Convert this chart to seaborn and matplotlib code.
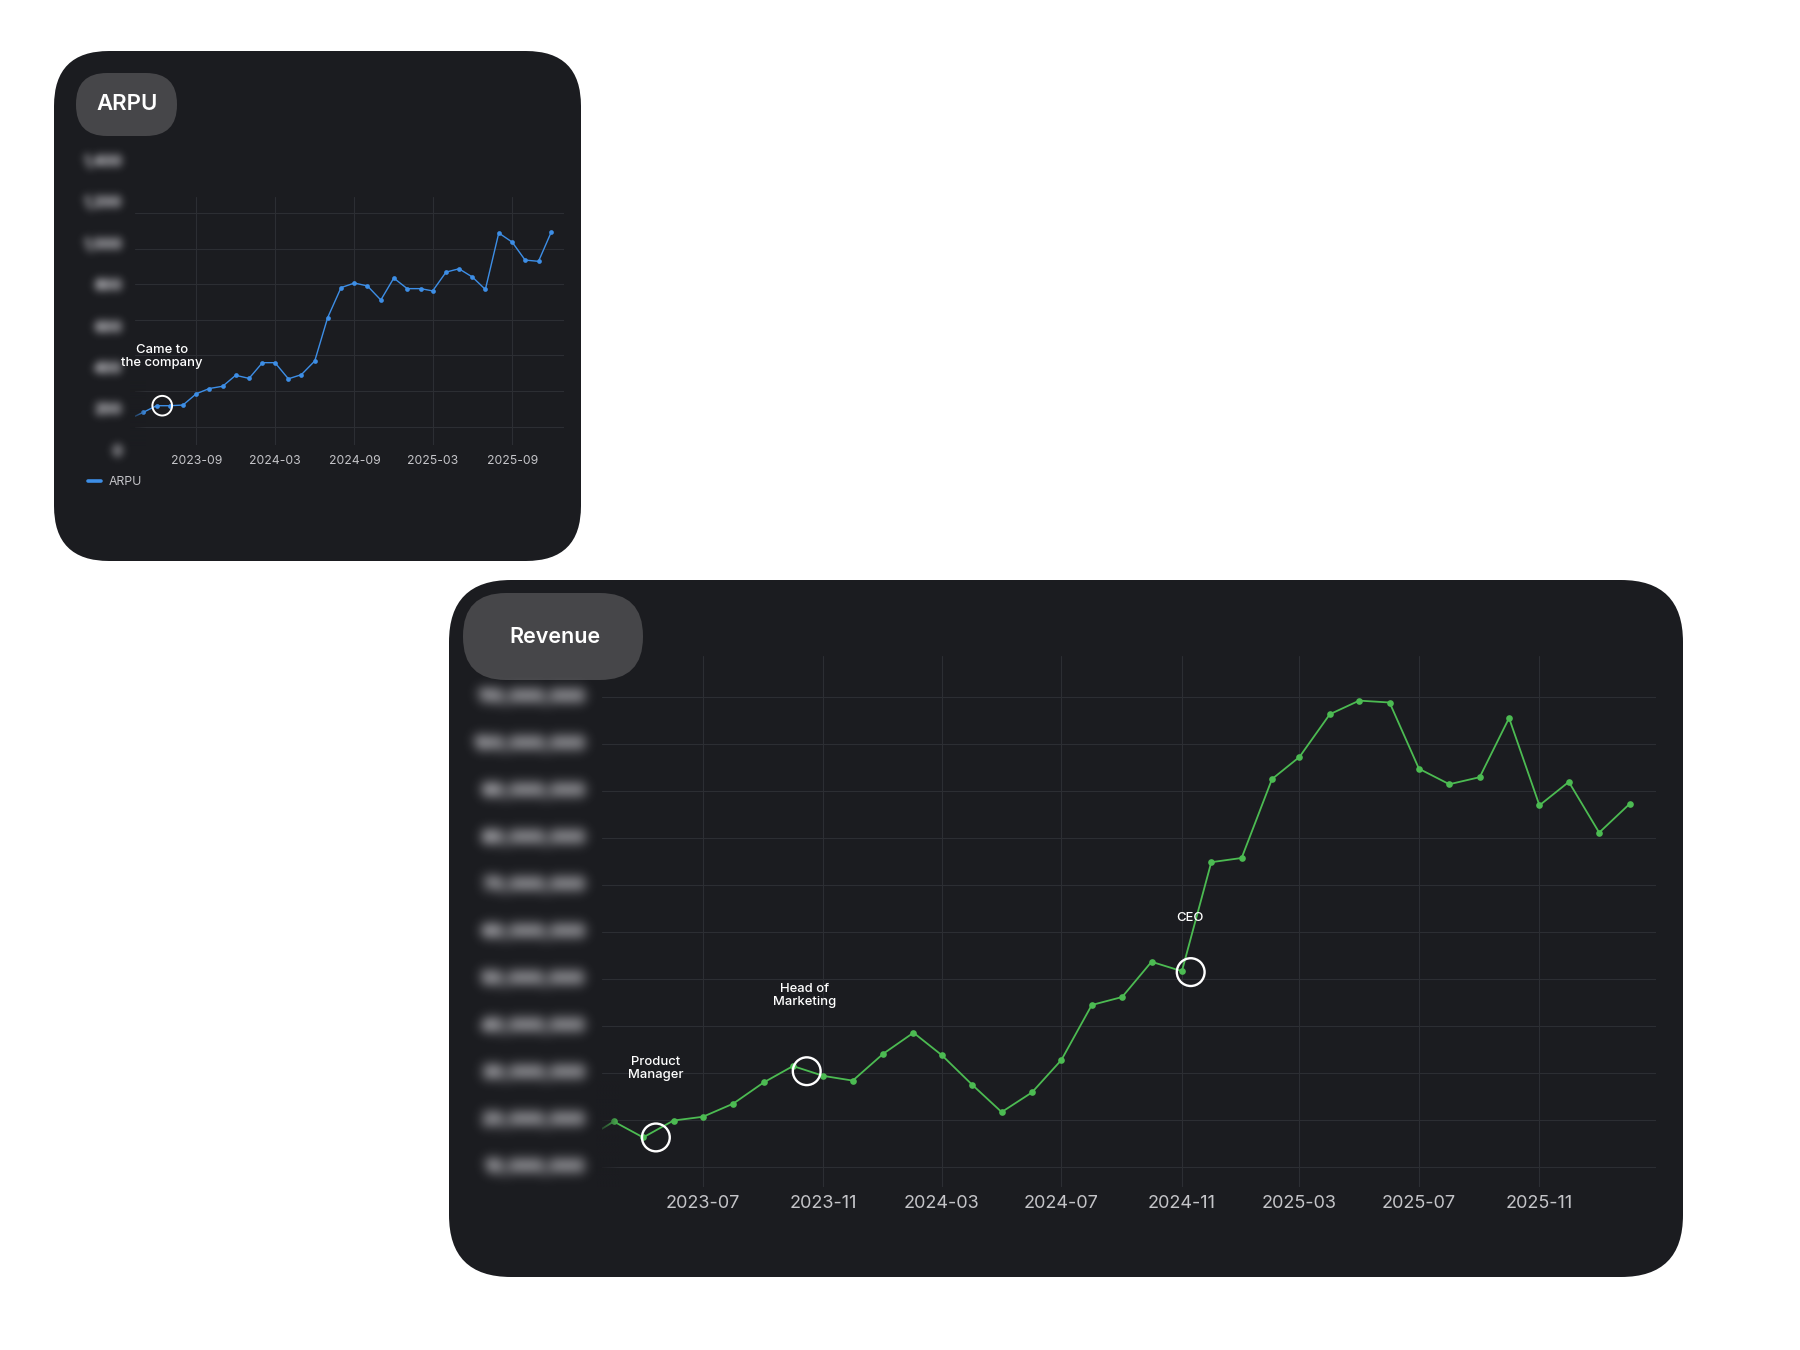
import numpy as np
import pandas as pd
import matplotlib
matplotlib.use("Agg")
import matplotlib.pyplot as plt
import matplotlib.dates as mdates
from matplotlib.patches import FancyBboxPatch
from matplotlib.lines import Line2D
import seaborn as sns

# ---- data ----
arpu_months = ["2023-04", "2023-05", "2023-06", "2023-07", "2023-08", "2023-09",
               "2023-10", "2023-11", "2023-12", "2024-01", "2024-02", "2024-03",
               "2024-04", "2024-05", "2024-06", "2024-07", "2024-08", "2024-09",
               "2024-10", "2024-11", "2024-12", "2025-01", "2025-02", "2025-03",
               "2025-04", "2025-05", "2025-06", "2025-07", "2025-08", "2025-09",
               "2025-10", "2025-11", "2025-12"]
arpu_values = [160, 190, 222, 222, 225, 280, 305, 316, 369, 354, 430, 430,
               352, 372, 438, 648, 793, 815, 801, 733, 839, 788, 788, 777,
               868, 884, 844, 784, 1057, 1013, 926, 920, 1064]
arpu_tick_values = [0, 200, 400, 600, 800, 1000, 1200, 1400]
arpu_grid_values = [121, 293, 465, 638, 810, 982, 1154]
arpu_events = ["Came to\nthe company"]
arpu_event_dates = ["2023-06-14"]
arpu_event_values = [222]

rev_months = ["2023-03", "2023-04", "2023-05", "2023-06", "2023-07", "2023-08",
              "2023-09", "2023-10", "2023-11", "2023-12", "2024-01", "2024-02",
              "2024-03", "2024-04", "2024-05", "2024-06", "2024-07", "2024-08",
              "2024-09", "2024-10", "2024-11", "2024-12", "2025-01", "2025-02",
              "2025-03", "2025-04", "2025-05", "2025-06", "2025-07", "2025-08",
              "2025-09", "2025-10", "2025-11", "2025-12", "2026-01", "2026-02"]
rev_values = [15.7e6, 19.7e6, 16.3e6, 19.9e6, 20.7e6, 23.5e6, 28.0e6, 31.5e6,
              29.4e6, 28.4e6, 34.1e6, 38.6e6, 33.8e6, 27.5e6, 21.7e6, 25.9e6,
              32.8e6, 44.5e6, 46.2e6, 53.7e6, 51.7e6, 74.9e6, 75.8e6, 92.6e6,
              97.3e6, 106.4e6, 109.3e6, 108.9e6, 94.8e6, 91.5e6, 93.0e6, 105.6e6,
              87.0e6, 92.0e6, 81.2e6, 87.3e6]
rev_tick_values = [10e6, 20e6, 30e6, 40e6, 50e6, 60e6, 70e6, 80e6, 90e6, 100e6, 110e6]
rev_events = ["Product\nManager", "Head of\nMarketing", "CEO"]
rev_event_dates = ["2023-05-14", "2023-10-15", "2024-11-10"]
rev_event_values = [16.3e6, 30.4e6, 51.5e6]

# ---- style ----
CARD = "#1b1c20"
PILL = "#464649"
GRID = "#2c2e33"
TICK = "#c4c4c8"
HIDDEN = "#8e8e93"
BLUE = "#3d8ee6"
GREEN = "#4cbb52"

sns.set_style("dark")
plt.rcParams["font.family"] = ["Inter", "DejaVu Sans"]

W, H = 1800, 1350
fig = plt.figure(figsize=(18, 13.5), dpi=100, facecolor="white")


class Blur:
    """gaussian blur of the text alpha, used as agg filter on the hidden axis labels"""
    def __init__(self, sigma, color, gain=1.0):
        self.sigma = sigma
        self.rgb = matplotlib.colors.to_rgb(color)
        self.gain = gain

    def __call__(self, im, dpi):
        pad = int(self.sigma * 3)
        a = np.pad(im[..., 3], pad, "constant")
        x = np.arange(-pad, pad + 1)
        k = np.exp(-0.5 * (x / self.sigma) ** 2)
        k /= k.sum()
        a = np.apply_along_axis(np.convolve, 0, a, k, mode="same")
        a = np.apply_along_axis(np.convolve, 1, a, k, mode="same")
        out = np.zeros(a.shape + (4,))
        out[..., :3] = self.rgb
        out[..., 3] = np.clip(a * self.gain, 0, 1)
        return out, -pad, -pad


def px_axes(left, top, right, bottom, **kw):
    return fig.add_axes([left / W, 1 - bottom / H, (right - left) / W, (bottom - top) / H], **kw)


# background layer in pixel coordinates
bg = px_axes(0, 0, W, H, zorder=0)
bg.set_xlim(0, W)
bg.set_ylim(H, 0)
bg.axis("off")

bg.add_patch(FancyBboxPatch((54, 51), 527, 510, boxstyle="round,pad=0,rounding_size=55",
                            fc=CARD, ec="none"))
bg.add_patch(FancyBboxPatch((449, 580), 1234, 697, boxstyle="round,pad=0,rounding_size=62",
                            fc=CARD, ec="none"))
bg.add_patch(FancyBboxPatch((76, 73), 101, 63, boxstyle="round,pad=0,rounding_size=31",
                            fc=PILL, ec="none"))
bg.add_patch(FancyBboxPatch((463, 593), 180, 87, boxstyle="round,pad=0,rounding_size=43",
                            fc=PILL, ec="none"))
bg.text(127, 104, "ARPU", color="white", fontsize=16, fontweight=600, ha="center", va="center")
bg.text(555, 637, "Revenue", color="white", fontsize=15.5, fontweight=600, ha="center", va="center")


def style_chart(ax, locator_months, tick_size, pad):
    ax.set_facecolor("none")
    for s in ax.spines.values():
        s.set_visible(False)
    ax.xaxis.set_major_locator(mdates.MonthLocator(bymonth=locator_months))
    ax.xaxis.set_major_formatter(mdates.DateFormatter("%Y-%m"))
    ax.tick_params(axis="x", length=0, colors=TICK, labelsize=tick_size, pad=pad)
    ax.tick_params(axis="y", length=0, labelleft=False)
    ax.grid(True, color=GRID, linewidth=0.8)
    ax.set_xlabel("")
    ax.set_ylabel("")


# ---- ARPU chart ----
ax1 = px_axes(135, 197, 564, 445, zorder=1)
sns.lineplot(x=pd.to_datetime(arpu_months), y=arpu_values, ax=ax1, color=BLUE,
             marker="o", markersize=3.4, markeredgewidth=0, linewidth=1.0)
ax1.scatter(pd.to_datetime(arpu_event_dates), arpu_event_values, s=200,
            facecolors="none", edgecolors="white", linewidths=1.4, zorder=4)
for txt, d, v in zip(arpu_events, arpu_event_dates, arpu_event_values):
    ax1.annotate(txt, xy=(pd.Timestamp(d), v), xytext=(0, 49), textcoords="offset pixels",
                 ha="center", va="center", color="white", fontsize=9.4, fontweight=500,
                 linespacing=1.1, annotation_clip=False, zorder=6)
style_chart(ax1, (3, 9), 8.8, 7)
ax1.set_yticks(arpu_grid_values)
ax1.set_xlim(pd.Timestamp("2023-04-12"), pd.Timestamp("2025-12-30"))
ax1.set_ylim(32, 1231)
for v in arpu_tick_values:
    t = ax1.annotate(f"{v:,}", xy=(0, v), xycoords=("axes fraction", "data"),
                     xytext=(-13, 0), textcoords="offset pixels", ha="right", va="center",
                     color=HIDDEN, fontsize=10, fontweight="bold", annotation_clip=False)
    t.set_agg_filter(Blur(3.0, HIDDEN, 1.4))
ax1.legend(handles=[Line2D([0], [0], color=BLUE, lw=2.6)], labels=["ARPU"],
           loc="center left", bbox_to_anchor=(88 / W, 1 - 482 / H), bbox_transform=fig.transFigure,
           frameon=False, handlelength=1.1, handletextpad=0.6, fontsize=8.8,
           labelcolor=TICK, borderpad=0, borderaxespad=0)

# ---- Revenue chart ----
ax2 = px_axes(602, 656, 1656, 1187, zorder=1)
sns.lineplot(x=pd.to_datetime(rev_months), y=rev_values, ax=ax2, color=GREEN,
             marker="o", markersize=4.8, markeredgewidth=0, linewidth=1.3)
ax2.scatter(pd.to_datetime(rev_event_dates), rev_event_values, s=400,
            facecolors="none", edgecolors="white", linewidths=1.7, zorder=4)
offsets = [(0, 69), (-2, 76), (-1, 54)]
for txt, d, v, off in zip(rev_events, rev_event_dates, rev_event_values, offsets):
    ax2.annotate(txt, xy=(pd.Timestamp(d), v), xytext=off, textcoords="offset pixels",
                 ha="center", va="center", color="white", fontsize=9.4, fontweight=500,
                 linespacing=1.1, annotation_clip=False)
style_chart(ax2, (3, 7, 11), 13, 6)
ax2.set_yticks(rev_tick_values)
ax2.set_xlim(pd.Timestamp("2023-03-20"), pd.Timestamp("2026-02-28"))
ax2.set_ylim(5.75e6, 118.8e6)
for v in rev_tick_values:
    t = ax2.annotate(f"{v:,.0f}", xy=(0, v), xycoords=("axes fraction", "data"),
                     xytext=(-17, 0), textcoords="offset pixels", ha="right", va="center",
                     color=HIDDEN, fontsize=12.5, fontweight="bold", annotation_clip=False)
    t.set_agg_filter(Blur(4.2, HIDDEN, 1.5))

# ---- left-edge fade of the lines ----
top = px_axes(0, 0, W, H, zorder=5)
top.set_facecolor("none")
top.axis("off")
grad = np.zeros((1, 64, 4))
grad[..., :3] = matplotlib.colors.to_rgb(CARD)
grad[..., 3] = np.linspace(1, 0, 64)
top.imshow(grad, extent=[130, 146, 446, 380], aspect="auto", interpolation="bilinear")
top.imshow(grad, extent=[596, 620, 1187, 1080], aspect="auto", interpolation="bilinear")
top.set_xlim(0, W)
top.set_ylim(H, 0)

fig.savefig("out.png", dpi=100, facecolor="white")
